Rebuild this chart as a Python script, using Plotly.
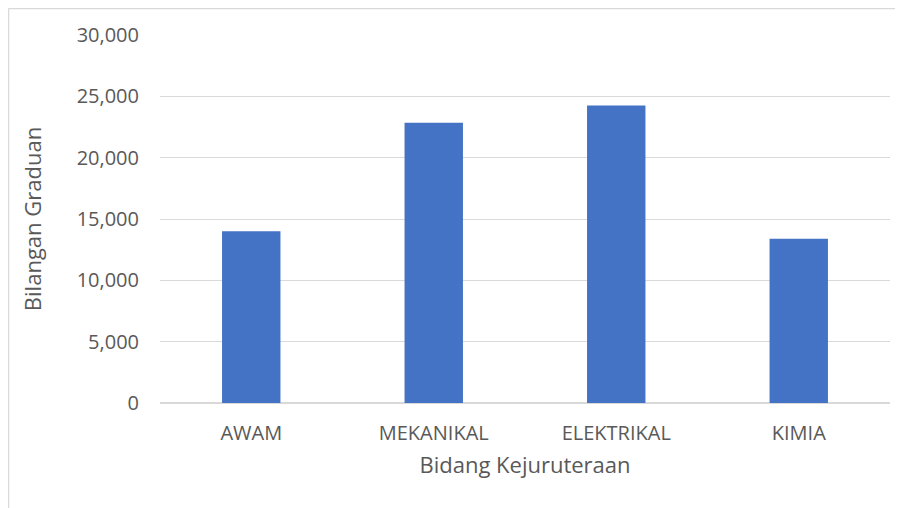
import plotly.graph_objects as go

BIDANG = ["AWAM", "MEKANIKAL", "ELEKTRIKAL", "KIMIA"]
GRADUAN = [14000, 22850, 24250, 13400]
Y_TICKS = [0, 5000, 10000, 15000, 20000, 25000, 30000]

# page body has an 8px margin, so the figure is drawn 8px smaller
W, H = 895, 500
L, R, T, B = 152, 13, 27, 105
PW, PH = W - L - R, H - T - B


def px_x(p):
    return (p - L) / PW


def px_y(p):
    return (H - B - p) / PH


fig = go.Figure()
fig.add_trace(go.Bar(
    x=BIDANG,
    y=GRADUAN,
    marker=dict(color="#4472c4", line=dict(width=0)),
    hovertemplate="%{x}: %{y:,}<extra></extra>",
))

# chart border (Excel style), running off the page on right/bottom
border = dict(type="line", xref="paper", yref="paper", line=dict(color="#d9d9d9", width=1.5))
fig.add_shape(**border, x0=px_x(0.5), x1=px_x(W + 10), y0=px_y(0.5), y1=px_y(0.5))
fig.add_shape(**border, x0=px_x(0.5), x1=px_x(0.5), y0=px_y(0.5), y1=px_y(H + 10))

fig.update_layout(
    width=W,
    height=H,
    plot_bgcolor="white",
    paper_bgcolor="white",
    font=dict(family="Open Sans, Arial", size=20, color="#595959"),
    margin=dict(l=L, r=R, t=T, b=B),
    bargap=0.68,
    showlegend=False,
)
fig.update_xaxes(
    title=dict(text="Bidang Kejuruteraan", font=dict(size=22), standoff=12),
    showgrid=False,
    showline=False,
    ticks="",
    ticklabelstandoff=16,
)
fig.update_yaxes(
    range=[0, 30000],
    tickvals=Y_TICKS,
    tickformat=",",
    showgrid=True,
    gridcolor="#d9d9d9",
    gridwidth=1,
    zeroline=True,
    zerolinecolor="#d9d9d9",
    zerolinewidth=1.5,
    showline=False,
    ticks="",
    ticklabelstandoff=20,
    title=dict(text="Bilangan Graduan", font=dict(size=22), standoff=28),
)

fig.write_html("out.html")
